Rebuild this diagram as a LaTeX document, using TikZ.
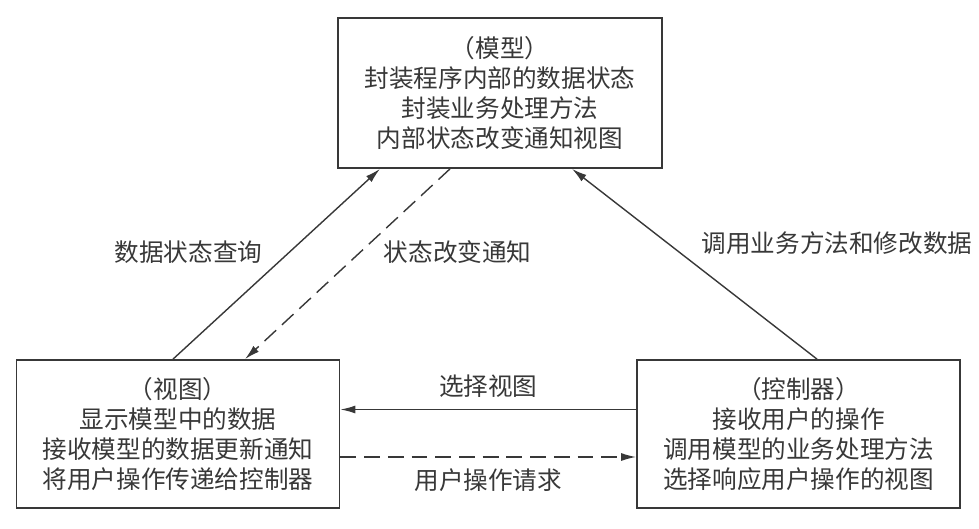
\documentclass[tikz,border=0pt]{standalone}
\usepackage{fontspec}
\newfontfamily\cjk{Noto Sans CJK SC}
\usetikzlibrary{arrows.meta,calc}
\definecolor{inkgray}{gray}{0.22}

\begin{document}
\begin{tikzpicture}[font=\cjk\fontsize{14}{17}\selectfont,inkgray,text=inkgray,
   part/.style={draw,line width=1pt,minimum width=6.46cm,minimum height=2.96cm,
                align=center,inner sep=0pt},
   flow/.style={-{Latex[length=3mm,width=1.6mm]},line width=0.8pt},
   back/.style={flow,dash pattern=on 9pt off 4.5pt}]
  \useasboundingbox (0,0) rectangle (19.58,10.56);
  \node[part,minimum width=6.48cm,minimum height=3.0cm] (model) at (10.0,8.7)
       {（模型）\\封装程序内部的数据状态\\封装业务处理方法\\内部状态改变通知视图};
  \node[part] (view) at (3.56,1.88)
       {（视图）\\显示模型中的数据\\接收模型的数据更新通知\\将用户操作传递给控制器};
  \node[part] (ctrl) at (15.97,1.88)
       {（控制器）\\接收用户的操作\\调用模型的业务处理方法\\选择响应用户操作的视图};
  % model <-> view
  \draw[flow] ($(view.north)+(-0.1,0)$) -- ($(model.south)+(-2.4,0)$)
       node[pos=0.56,left=4mm]{数据状态查询};
  \draw[back] ($(model.south)+(-1.0,0)$) -- ($(view.north)+(1.34,0)$)
       node[pos=0.44,right=3.5mm]{状态改变通知};
  % controller -> model
  \draw[flow] ($(ctrl.north)+(0.37,0)$) -- ($(model.south)+(1.44,0)$)
       node[pos=0.61,right=5.5mm]{调用业务方法和修改数据};
  % controller <-> view
  \draw[flow] ([yshift=0.49cm]ctrl.west) -- ([yshift=0.49cm]view.east)
       node[midway,above=1mm]{选择视图};
  \draw[back] ([yshift=-0.46cm]view.east) -- ([yshift=-0.46cm]ctrl.west)
       node[midway,below=1mm]{用户操作请求};
\end{tikzpicture}
\end{document}
